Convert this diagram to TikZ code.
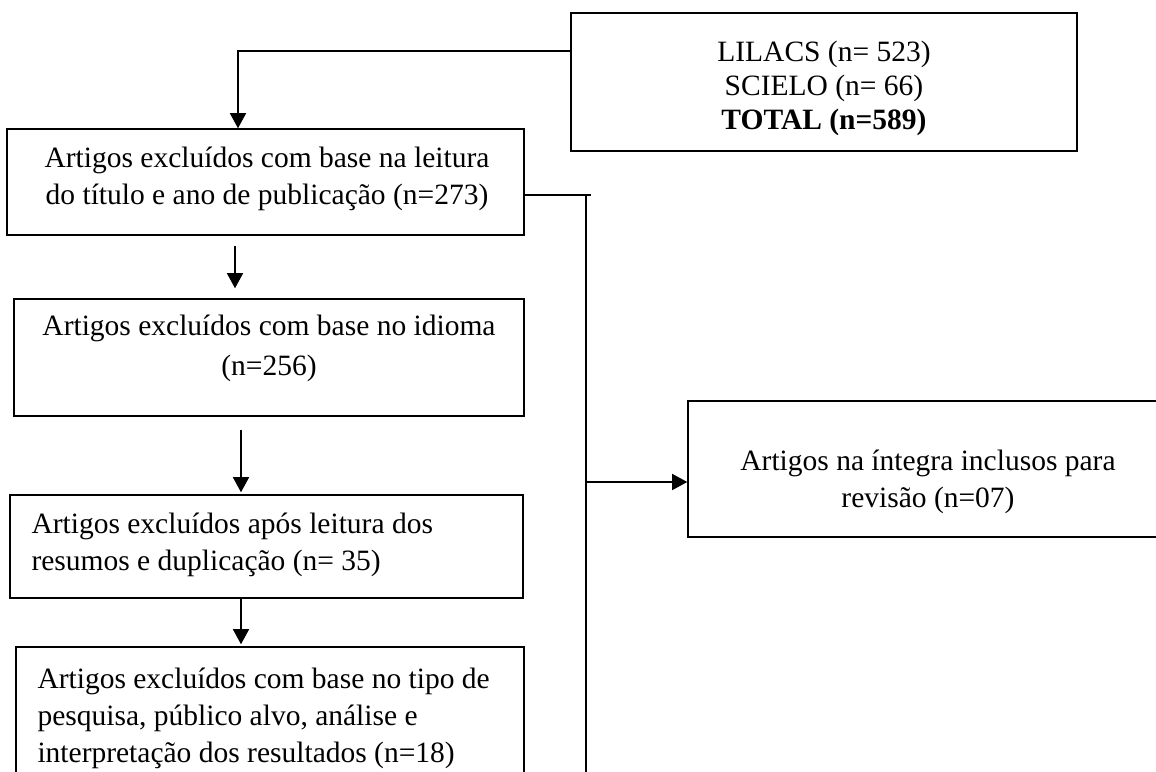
\documentclass[tikz,border=0pt]{standalone}
\usepackage{fontspec}
\setmainfont{Liberation Serif}
\usetikzlibrary{arrows.meta}

\begin{document}
\begin{tikzpicture}[x=0.4pt,y=-0.4pt,
  caixa/.style={draw, line width=0.6pt, inner sep=0pt},
  texto/.style={inner sep=0pt, font=\fontsize{11.8}{14.8}\selectfont},
  seta/.style={line width=0.55pt, -{Triangle[length=6pt,width=6.4pt]}},
  linha/.style={line width=0.55pt}]
\useasboundingbox (0,0) rectangle (1156,772);
\clip (0,0) rectangle (1156,772);
% caixas
\node [caixa, minimum width=202.4pt, minimum height=55.2pt] (tot) at (824,82) {};
\node [caixa, minimum width=206.8pt, minimum height=42.4pt] (titulo) at (265.5,182) {};
\node [caixa, minimum width=204pt, minimum height=46.8pt] (idioma) at (269,357.5) {};
\node [caixa, minimum width=205.2pt, minimum height=41.2pt] (resumos) at (266.5,546.5) {};
\node [caixa, minimum width=203.2pt, minimum height=69.2pt] (pesquisa) at (270,733.5) {};
\node [caixa, minimum width=192pt, minimum height=54.4pt] (inclusos) at (928,469) {};
% textos
\node [texto, align=center, font=\fontsize{11.8}{13.6}\selectfont] (tot-t) at (824,88)
  {LILACS (n= 523)\\SCIELO (n= 66)\\\textbf{TOTAL (n=589)}};
\node [texto, align=center] (titulo-t) at (267,178.5)
  {Artigos excluídos com base na leitura\\do título e ano de publicação (n=273)};
\node [texto, align=center, font=\fontsize{11.8}{16}\selectfont] (idioma-t) at (269,348)
  {Artigos excluídos com base no idioma\\(n=256)};
\node [texto, align=left, anchor=west] (resumos-t) at (31,545)
  {Artigos excluídos após leitura dos\\resumos e duplicação (n= 35)};
\node [texto, align=left, anchor=west] (pesquisa-t) at (37,718)
  {Artigos excluídos com base no tipo de\\pesquisa, público alvo, análise e\\interpretação dos resultados (n=18)};
\node [texto, align=center] (inclusos-t) at (928,481.5)
  {Artigos na íntegra inclusos para\\revisão (n=07)};
% ligacoes
\coordinate (c1) at (238,51);
\coordinate (c2) at (586,195);
\coordinate (c3) at (586,482);
\coordinate (x1) at (235,0);
\coordinate (x2) at (241,0);
\draw [seta] (tot.west |- c1) -| (titulo.north -| c1);
\draw [linha] (titulo.east |- c2) -- ([xshift=2pt]c2);
\draw [linha] (c2) -- (c2 |- pesquisa.south);
\draw [seta] (c3) -- (inclusos.west |- c3);
\draw [seta, shorten <=4pt, shorten >=4pt] (titulo.south -| x1) -- (idioma.north -| x1);
\draw [seta, shorten <=5.2pt, shorten >=0.8pt] (idioma.south -| x2) -- (resumos.north -| x2);
\draw [seta, shorten >=0.8pt] (resumos.south -| x2) -- (pesquisa.north -| x2);
\end{tikzpicture}
\end{document}
